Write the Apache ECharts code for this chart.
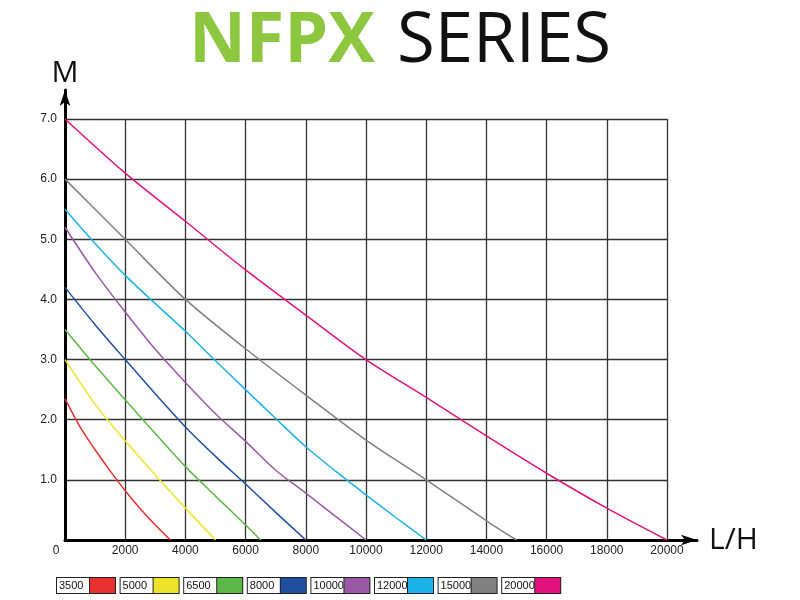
<!DOCTYPE html>
<html>
<head>
<meta charset="utf-8">
<script src="https://cdn.jsdelivr.net/npm/echarts@6/dist/echarts.min.js"></script>
<style>html,body{margin:0;padding:0;background:#fff}#c{width:800px;height:600px}</style>
</head>
<body>
<div id="c"></div>
<script>
// ---- data ----
const models = ['3500','5000','6500','8000','10000','12000','15000','20000'];
const colors = ['#e8312f','#ede42a','#5cb947','#1f4f9f','#9a58a6','#1cb3e8','#808080','#e3127e'];
const flow3500  = [0,500,1000,1500,2000,2500,3000,3500];
const head3500  = [2.35,1.88,1.5,1.15,0.82,0.52,0.25,0];
const flow5000  = [0,1000,2000,3000,4000,5000];
const head5000  = [3.0,2.26,1.65,1.08,0.53,0];
const flow6500  = [0,1000,2000,3000,4000,5000,6000,6500];
const head6500  = [3.5,2.9,2.33,1.77,1.22,0.73,0.25,0];
const flow8000  = [0,1000,2000,3000,4000,5000,6000,7000,8000];
const head8000  = [4.2,3.58,3.0,2.43,1.88,1.39,0.93,0.46,0];
const flow10000 = [0,1000,2000,3000,4000,5000,6000,7000,8000,9000,10000];
const head10000 = [5.2,4.45,3.79,3.17,2.62,2.1,1.64,1.16,0.78,0.39,0];
const flow12000 = [0,1000,2000,3000,4000,5000,6000,7000,8000,9000,10000,11000,12000];
const head12000 = [5.5,4.93,4.4,3.93,3.47,2.98,2.5,2.02,1.55,1.14,0.75,0.37,0];
const flow15000 = [0,2000,4000,6000,8000,10000,12000,14000,15000];
const head15000 = [6.0,5.0,4.0,3.18,2.41,1.66,1.0,0.32,0];
const flow20000 = [0,2000,4000,6000,8000,10000,12000,14000,16000,18000,20000];
const head20000 = [7.0,6.1,5.3,4.49,3.74,3.0,2.37,1.73,1.11,0.53,0];
const xTicks = [0,2000,4000,6000,8000,10000,12000,14000,16000,18000,20000];
const yTicks = ['0','1.0','2.0','3.0','4.0','5.0','6.0','7.0'];

const flows = [flow3500,flow5000,flow6500,flow8000,flow10000,flow12000,flow15000,flow20000];
const heads = [head3500,head5000,head6500,head8000,head10000,head12000,head15000,head20000];

const chart = echarts.init(document.getElementById('c'));
const rich = {n:{width:31,height:14,lineHeight:15,padding:[1,0,0,2],backgroundColor:'#fff',borderColor:'#222',borderWidth:1,fontSize:11,fontFamily:'Liberation Sans, Arial, sans-serif',color:'#111'}};
models.forEach((m,i)=>{ rich['c'+i] = {width:25,height:15,backgroundColor:colors[i],borderColor:'#222',borderWidth:1}; });

const series = models.map((m,i)=>({
  name:m, type:'line', xAxisIndex:0, yAxisIndex:0,
  data: flows[i].map((f,j)=>[f,heads[i][j]]),
  smooth:0.3, showSymbol:false, symbol:'none',
  lineStyle:{color:colors[i],width:1.5}, itemStyle:{color:colors[i]}, z:3
}));

chart.setOption({
  animation:false,
  backgroundColor:'#fff',
  title:{
    text:'{a|NFPX}{b|SERIES}', left:'center', top:2,
    textStyle:{rich:{
      a:{fontSize:70,fontWeight:'bold',color:'#8dc63f',fontFamily:'Open Sans, sans-serif'},
      b:{fontSize:69,fontWeight:'normal',color:'#111',fontFamily:'Open Sans, sans-serif',padding:[0,0,0,22]}
    }}
  },
  legend:{
    left:47, top:572, itemGap:-0.4, itemWidth:0, itemHeight:0, icon:'rect', selectedMode:false,
    data:models,
    formatter:(name)=>'{n|'+name+'}{c'+models.indexOf(name)+'|}',
    textStyle:{rich:rich}
  },
  grid:[
    {left:65,right:133,top:119,bottom:60},
    {left:65,right:103,top:90,bottom:60}
  ],
  xAxis:[
    {type:'value',gridIndex:0,min:0,max:20000,interval:2000,
     axisLine:{show:false},axisTick:{show:false},
     splitLine:{show:true,lineStyle:{color:'#333',width:1.3}},
     axisLabel:{margin:5,fontSize:12,color:'#222',fontFamily:'Liberation Sans, Arial, sans-serif',
       formatter:(v)=> v===0 ? '{z|0}' : String(v),
       rich:{z:{padding:[0,18,0,0],fontSize:12,color:'#222'}}}},
    {type:'value',gridIndex:1,min:0,max:1,
     axisLine:{show:true,symbol:['none','arrow'],symbolSize:[8,16],lineStyle:{color:'#000',width:3}},
     axisTick:{show:false},axisLabel:{show:false},splitLine:{show:false},
     name:'L/H',nameLocation:'end',nameGap:12,nameTextStyle:{fontSize:30,color:'#111',fontFamily:'Open Sans, sans-serif',verticalAlign:'middle'}}
  ],
  yAxis:[
    {type:'value',gridIndex:0,min:0,max:7,interval:1,
     axisLine:{show:false},axisTick:{show:false},
     splitLine:{show:true,lineStyle:{color:'#333',width:1.3}},
     axisLabel:{margin:8,fontSize:12,color:'#222',fontFamily:'Liberation Sans, Arial, sans-serif',
       formatter:(v)=> v===0 ? '' : yTicks[v]}},
    {type:'value',gridIndex:1,min:0,max:1,
     axisLine:{show:true,symbol:['none','arrow'],symbolSize:[8,16],lineStyle:{color:'#000',width:3}},
     axisTick:{show:false},axisLabel:{show:false},splitLine:{show:false},
     name:'M',nameLocation:'end',nameGap:2,nameTextStyle:{fontSize:30,color:'#111',fontFamily:'Open Sans, sans-serif',align:'center',verticalAlign:'bottom'}}
  ],
  series:series
});
</script>
</body>
</html>
